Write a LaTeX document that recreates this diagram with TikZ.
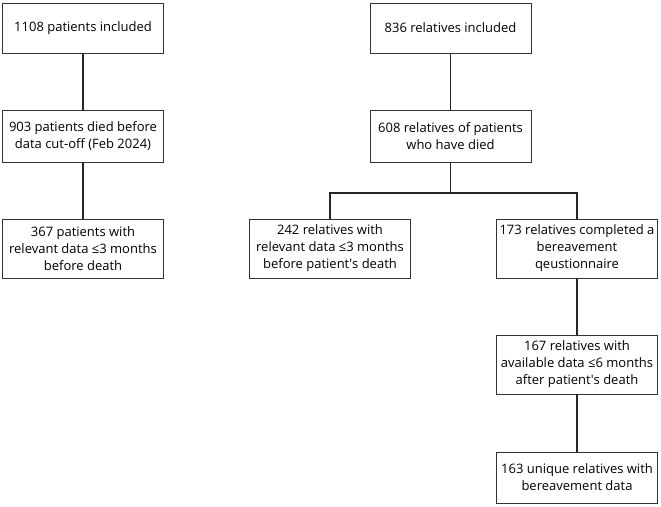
\documentclass[tikz,border=0pt]{standalone}
\usepackage{fontspec}
\setmainfont{Open Sans}
\usepackage{tikz}
\usetikzlibrary{positioning, calc}

\begin{document}
\begin{tikzpicture}[
        x=1pt, y=1pt,
        flowbox/.style={rectangle, draw=black!80, fill=white, line width=0.9pt, minimum width=161pt, align=center, font=\fontsize{13}{17}\selectfont, inner sep=1pt},
        link/.style={line width=1.5pt, black!85}
    ]
        \useasboundingbox (0,0) rectangle (661,-506);

        % patients
        \node[flowbox, minimum height=50pt] (pinc) at (83,-28) {1108 patients included};
        \node[flowbox, minimum height=52pt] (pdied) at (83,-136) {903 patients died before\\data cut-off (Feb 2024)};
        \node[flowbox, minimum height=59pt] (pdata) at (83,-248.5) {367 patients with\\relevant data ≤3 months\\before death};

        % relatives
        \node[flowbox, minimum height=50pt] (rinc) at (450.5,-28) {836 relatives included};
        \node[flowbox, minimum height=52pt] (rdied) at (450.5,-136) {608 relatives of patients\\who have died};
        \node[flowbox, minimum height=59pt] (rdata) at (330,-248.5) {242 relatives with\\relevant data ≤3 months\\before patient\textquotesingle s death};
        \node[flowbox, minimum height=59pt] (rquest) at (577,-248.5) {173 relatives completed a\\bereavement\\qeustionnaire};
        \node[flowbox, minimum height=59pt] (ravail) at (577,-364.5) {167 relatives with\\available data ≤6 months\\after patient\textquotesingle s death};
        \node[flowbox, minimum height=51pt] (runique) at (577,-477.5) {163 unique relatives with\\bereavement data};

        \coordinate (split) at (450.5,-193);

        \draw[link] (pinc) -- (pdied);
        \draw[link] (pdied) -- (pdata);
        \draw[link] (rinc) -- (rdied);
        \draw[link] (rdied) -- (split);
        \draw[link] (split) -| (rdata);
        \draw[link] (split) -| (rquest);
        \draw[link] (rquest) -- (ravail);
        \draw[link] (ravail) -- (runique);
    \end{tikzpicture}
\end{document}
